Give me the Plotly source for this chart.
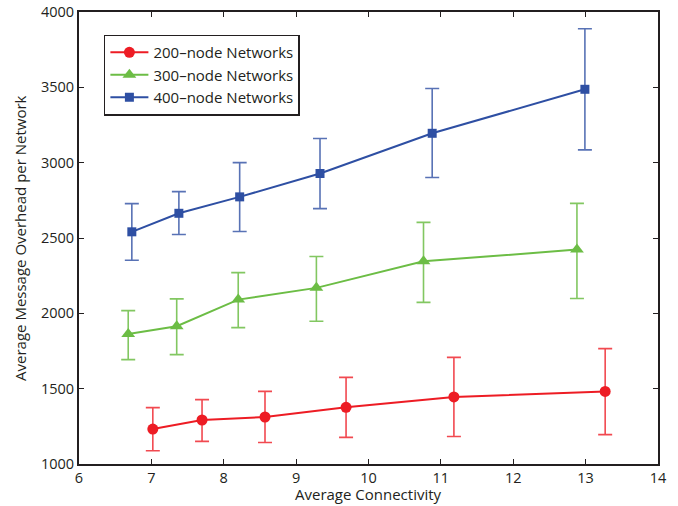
import plotly.graph_objects as go

# Data
x_200 = [7.02, 7.70, 8.57, 9.69, 11.18, 13.27]
y_200 = [1232, 1292, 1312, 1376, 1445, 1482]
up_200 = [1374, 1427, 1482, 1575, 1708, 1766]
lo_200 = [1088, 1150, 1143, 1177, 1183, 1195]

x_300 = [6.68, 7.35, 8.20, 9.28, 10.76, 12.88]
y_300 = [1863, 1914, 2091, 2169, 2345, 2423]
up_300 = [2018, 2096, 2270, 2377, 2604, 2730]
lo_300 = [1693, 1726, 1905, 1947, 2073, 2098]

x_400 = [6.73, 7.38, 8.22, 9.33, 10.88, 12.99]
y_400 = [2541, 2664, 2773, 2928, 3195, 3487]
up_400 = [2728, 2808, 3000, 3160, 3492, 3889]
lo_400 = [2352, 2523, 2543, 2695, 2902, 3085]

x_ticks = [6, 7, 8, 9, 10, 11, 12, 13, 14]
y_ticks = [1000, 1500, 2000, 2500, 3000, 3500, 4000]

x_title = "Average Connectivity"
y_title = "Average Message Overhead per Network"

series = [
    ("200\u2013node Networks", x_200, y_200, up_200, lo_200, "#ED1C24", "rgba(237,28,36,0.8)", "circle", 11),
    ("300\u2013node Networks", x_300, y_300, up_300, lo_300, "#6CBD45", "rgba(108,189,69,0.85)", "triangle-up", 12),
    ("400\u2013node Networks", x_400, y_400, up_400, lo_400, "#2E4FA3", "rgba(46,79,163,0.8)", "square", 9),
]

fig = go.Figure()
for name, xs, ys, ups, los, col, ecol, sym, ms in series:
    fig.add_trace(go.Scatter(
        x=xs, y=ys, name=name, mode="lines+markers",
        line=dict(color=col, width=2),
        marker=dict(symbol=sym, size=ms, color=col),
        error_y=dict(type="data", symmetric=False,
                     array=[u - v for u, v in zip(ups, ys)],
                     arrayminus=[v - l for v, l in zip(ys, los)],
                     color=ecol, thickness=1.6, width=7),
    ))

font_family = "Open Sans, Liberation Sans, Arial, sans-serif"
axis_common = dict(
    showline=True, linecolor="#231F20", linewidth=2, mirror="ticks",
    ticks="inside", ticklen=5, tickwidth=1, tickcolor="#231F20",
    showgrid=False, zeroline=False, automargin=False,
    tickfont=dict(size=14.5, color="#231F20", family=font_family),
)
fig.update_layout(
    width=678, height=506,
    paper_bgcolor="white", plot_bgcolor="white",
    margin=dict(l=79, r=20, t=12, b=42),
    font=dict(family=font_family, color="#231F20"),
    xaxis=dict(range=[6, 14], tickvals=x_ticks, **axis_common),
    yaxis=dict(range=[1000, 4000], tickvals=y_ticks, **axis_common),
    legend=dict(x=0.043, y=0.95, xanchor="left", yanchor="top",
                bgcolor="white", bordercolor="#231F20", borderwidth=1.5,
                font=dict(size=15, color="#231F20"), itemwidth=38,
                tracegroupgap=0),
    showlegend=True,
    annotations=[
        dict(text=x_title, xref="paper", yref="paper", x=0.5, y=-0.093,
             xanchor="center", yanchor="bottom", showarrow=False,
             font=dict(size=15, color="#231F20")),
        dict(text=y_title, xref="paper", yref="paper", x=-0.102, y=0.5,
             xanchor="center", yanchor="middle", showarrow=False, textangle=-90,
             font=dict(size=15, color="#231F20")),
    ],
)

# remove the default page margin so the figure sits at the window's top-left corner
fig.write_html("out.html", config={"displayModeBar": False},
               post_script="document.body.style.margin='0px';")
